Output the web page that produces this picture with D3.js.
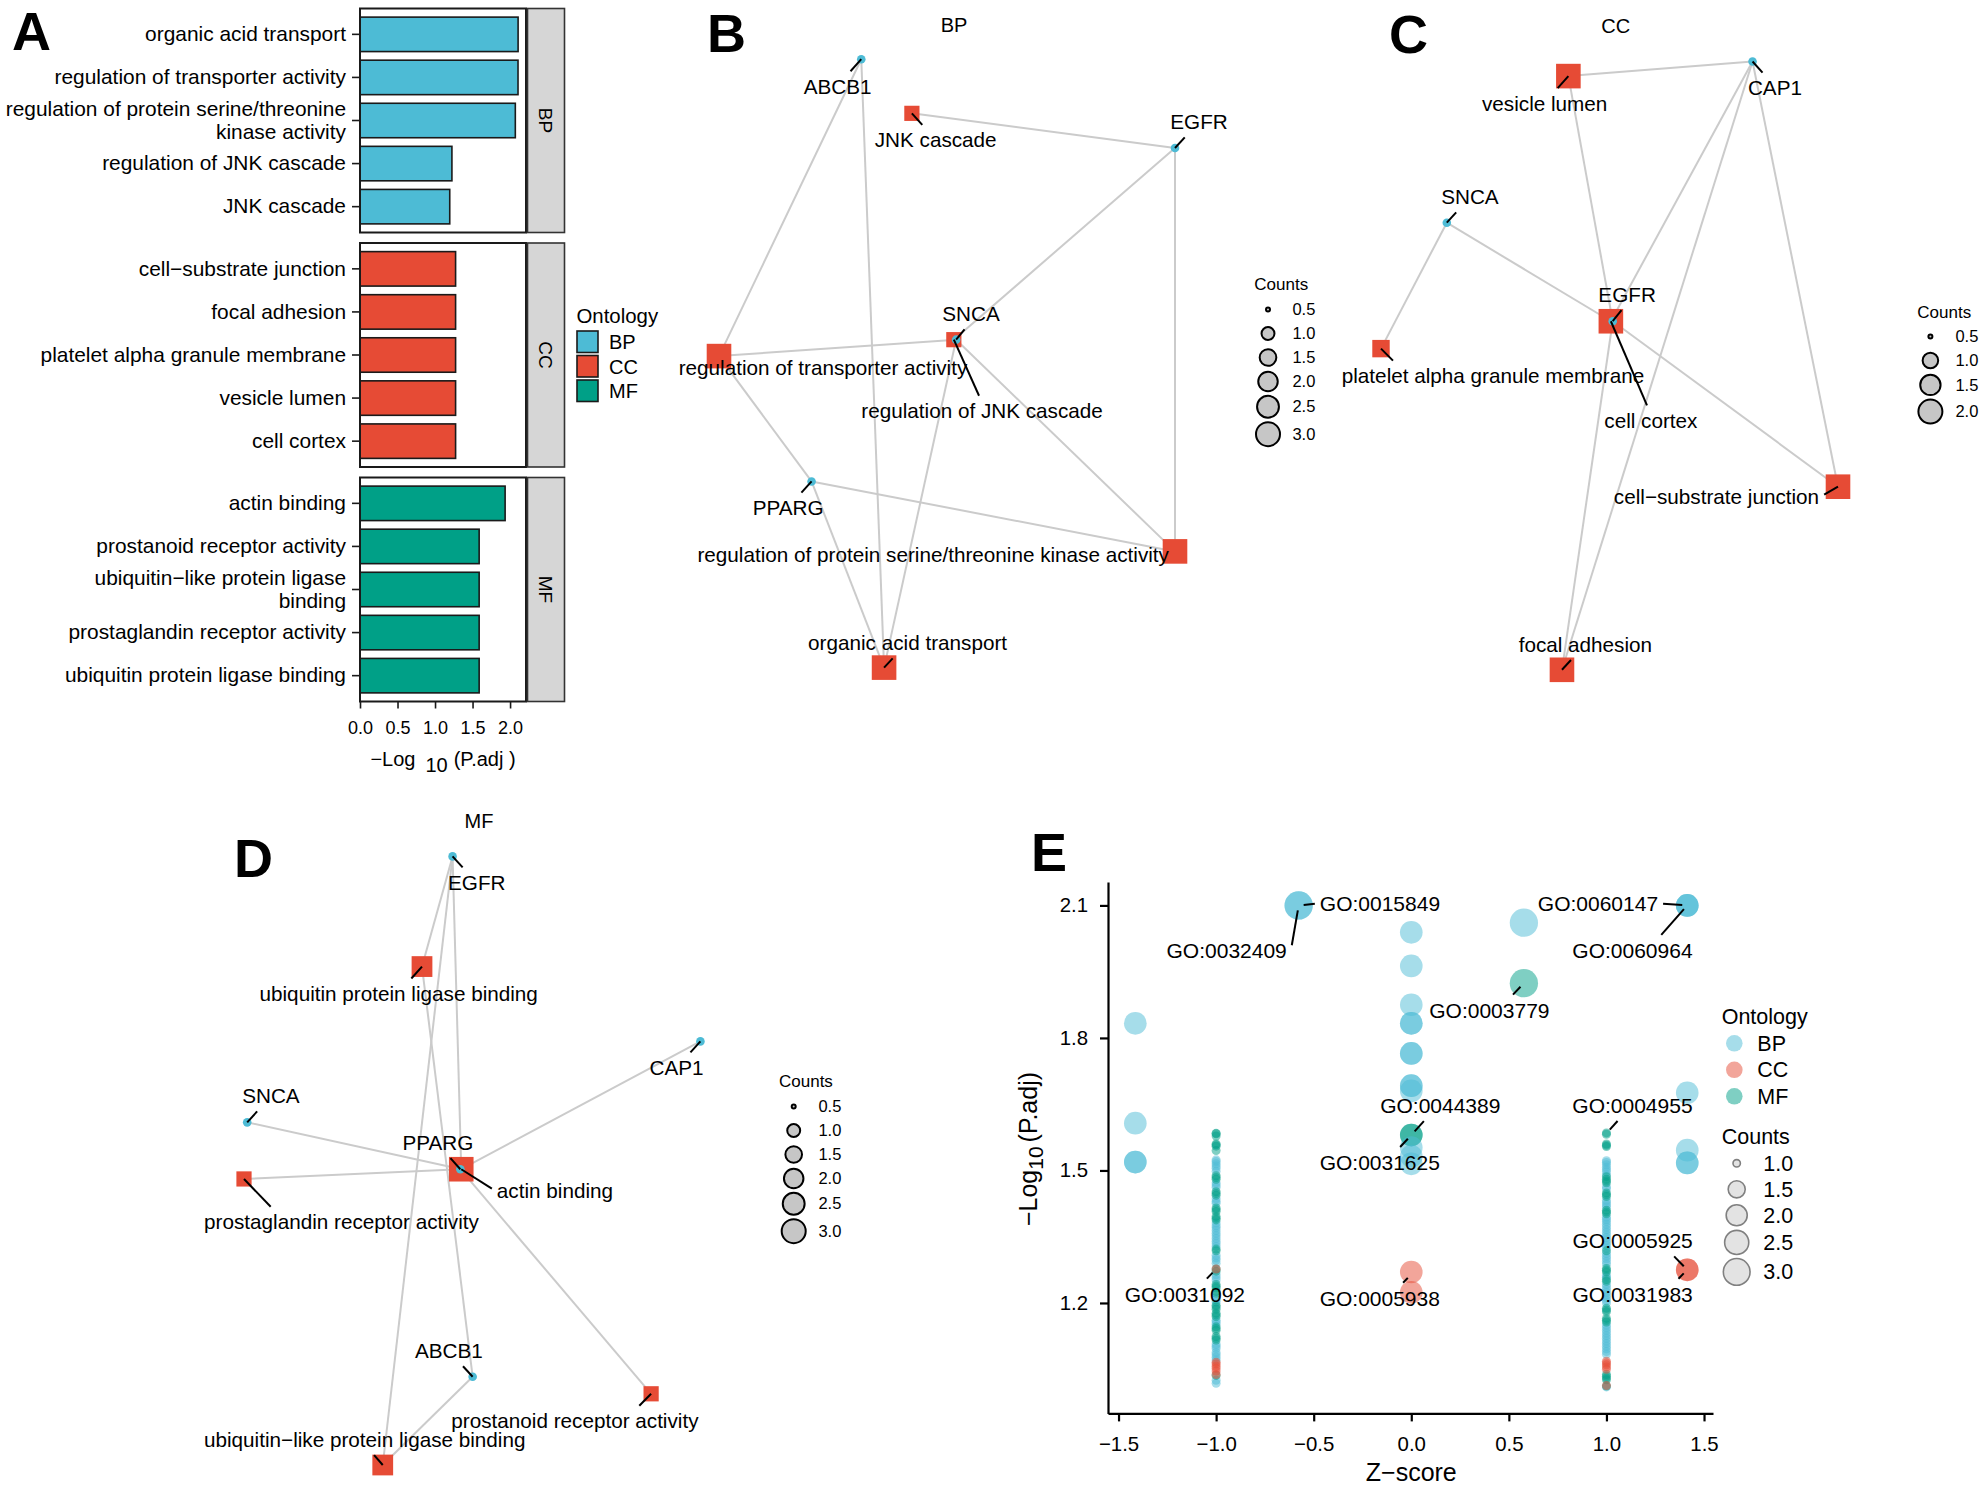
<!DOCTYPE html>
<meta charset="utf-8">

<!-- Load d3.js -->
<script src="https://d3js.org/d3.v7.min.js"></script>

<style>
    body { margin: 0; background: #fff; }
    svg { display: block; }
</style>

<div id="my_dataviz"></div>

<script>
    // ---------------- data ----------------
    var ontologies = ["BP", "CC", "MF"];
    var ontologyColors = ["#4DBBD5", "#E64B35", "#00A087"];

    // A: -log10(p.adj) of the top terms per ontology
    var bpTerms = ["organic acid transport", "regulation of transporter activity",
        "regulation of protein serine/threonine\nkinase activity", "regulation of JNK cascade", "JNK cascade"];
    var bpLogP = [2.107, 2.106, 2.07, 1.225, 1.196];
    var ccTerms = ["cell−substrate junction", "focal adhesion", "platelet alpha granule membrane",
        "vesicle lumen", "cell cortex"];
    var ccLogP = [1.274, 1.274, 1.274, 1.274, 1.274];
    var mfTerms = ["actin binding", "prostanoid receptor activity", "ubiquitin−like protein ligase\nbinding",
        "prostaglandin receptor activity", "ubiquitin protein ligase binding"];
    var mfLogP = [1.934, 1.588, 1.588, 1.588, 1.588];
    var barTicks = [0, 0.5, 1, 1.5, 2];

    // B: BP gene-concept network (layout coords 0..1)
    var bpNetNodes = ["ABCB1", "JNK cascade", "EGFR", "regulation of JNK cascade", "SNCA",
        "regulation of transporter activity", "PPARG",
        "regulation of protein serine/threonine kinase activity", "organic acid transport"];
    var bpNetIsGene = [1, 0, 1, 0, 1, 0, 1, 0, 0];
    var bpNetX = [0.312, 0.423, 1.0, 0.515, 0.52, 0.0, 0.203, 1.0, 0.362];
    var bpNetY = [0.0, 0.089, 0.146, 0.461, 0.461, 0.488, 0.694, 0.809, 1.0];
    var bpNetCount = [null, 1, null, 1, null, 3, null, 3, 3];
    var bpNetEdges = [
        ["ABCB1", "regulation of transporter activity"], ["ABCB1", "organic acid transport"],
        ["EGFR", "JNK cascade"], ["EGFR", "regulation of JNK cascade"],
        ["EGFR", "regulation of protein serine/threonine kinase activity"],
        ["SNCA", "regulation of transporter activity"], ["SNCA", "regulation of JNK cascade"],
        ["SNCA", "organic acid transport"], ["SNCA", "regulation of protein serine/threonine kinase activity"],
        ["PPARG", "regulation of transporter activity"],
        ["PPARG", "regulation of protein serine/threonine kinase activity"], ["PPARG", "organic acid transport"]
    ];
    var bpCountBreaks = [0.5, 1.0, 1.5, 2.0, 2.5, 3.0];

    // C: CC network
    var ccNetNodes = ["vesicle lumen", "CAP1", "SNCA", "cell cortex", "EGFR",
        "platelet alpha granule membrane", "cell−substrate junction", "focal adhesion"];
    var ccNetIsGene = [0, 1, 1, 0, 1, 0, 0, 0];
    var ccNetX = [0.410, 0.813, 0.144, 0.503, 0.507, 0.0, 1.0, 0.396];
    var ccNetY = [0.024, 0.0, 0.265, 0.427, 0.427, 0.472, 0.699, 1.0];
    var ccNetCount = [2, null, null, 2, null, 1, 2, 2];
    var ccNetEdges = [
        ["CAP1", "vesicle lumen"], ["EGFR", "vesicle lumen"], ["CAP1", "cell cortex"],
        ["CAP1", "focal adhesion"], ["CAP1", "cell−substrate junction"],
        ["SNCA", "platelet alpha granule membrane"], ["SNCA", "cell cortex"], ["EGFR", "cell cortex"],
        ["EGFR", "cell−substrate junction"], ["EGFR", "focal adhesion"]
    ];
    var ccCountBreaks = [0.5, 1.0, 1.5, 2.0];

    // D: MF network
    var mfNetNodes = ["EGFR", "ubiquitin protein ligase binding", "CAP1", "SNCA", "actin binding", "PPARG",
        "prostaglandin receptor activity", "ABCB1", "prostanoid receptor activity",
        "ubiquitin−like protein ligase binding"];
    var mfNetIsGene = [1, 0, 1, 1, 0, 1, 0, 1, 0, 0];
    var mfNetX = [0.457, 0.390, 1.0, 0.007, 0.476, 0.474, 0.0, 0.501, 0.892, 0.304];
    var mfNetY = [0.0, 0.181, 0.304, 0.437, 0.514, 0.514, 0.530, 0.855, 0.883, 1.0];
    var mfNetCount = [null, 2, null, null, 3, null, 1, null, 1, 2];
    var mfNetEdges = [
        ["EGFR", "ubiquitin protein ligase binding"], ["EGFR", "actin binding"],
        ["EGFR", "ubiquitin−like protein ligase binding"], ["ABCB1", "ubiquitin protein ligase binding"],
        ["ABCB1", "ubiquitin−like protein ligase binding"], ["CAP1", "actin binding"],
        ["SNCA", "actin binding"], ["PPARG", "actin binding"],
        ["PPARG", "prostaglandin receptor activity"], ["PPARG", "prostanoid receptor activity"]
    ];
    var mfCountBreaks = [0.5, 1.0, 1.5, 2.0, 2.5, 3.0];

    // E: z-score bubble plot, multi-gene terms
    var zBig = [-0.577, -0.577, 0.577, 1.414, 1.414, 1.414, 0, 0, 0.577, 0, 0, 0, -1.414, 0, 0, 0, 0, 0,
        1.414, -1.414, 0, 0, 0, 0, 0, 1.414, -1.414, -1.414, 1.414, 1.414, 0, 0, 1.414, 1.414];
    var logpBig = [2.1, 2.1, 2.061, 2.1, 2.1, 2.1, 2.039, 1.963, 1.924, 1.875, 1.833, 1.833, 1.833, 1.765, 1.765,
        1.692, 1.692, 1.680, 1.676, 1.607, 1.580, 1.580, 1.552, 1.532, 1.515, 1.546, 1.519, 1.519, 1.517, 1.517,
        1.270, 1.224, 1.275, 1.275];
    var countBig = [3, 3, 3, 2, 2, 2, 2, 2, 3, 2, 2, 2, 2, 2, 2, 2, 2, 2, 2, 2, 2, 2, 2, 2, 2, 2, 2, 2, 2, 2,
        2, 2, 2, 2];
    var ontBig = ["BP", "BP", "BP", "BP", "BP", "BP", "BP", "BP", "MF", "BP", "BP", "BP", "BP", "BP", "BP", "BP",
        "BP", "BP", "BP", "BP", "MF", "MF", "BP", "BP", "BP", "BP", "BP", "BP", "BP", "BP", "CC", "CC", "CC", "CC"];

    // single-gene terms at z = -1, by ontology
    var colNegBP = [1.524, 1.520, 1.515, 1.510, 1.505, 1.498, 1.472, 1.467, 1.462, 1.436, 1.430, 1.426, 1.381,
        1.375, 1.370, 1.364, 1.358, 1.352, 1.346, 1.340, 1.334, 1.328, 1.308, 1.302, 1.297, 1.290, 1.264, 1.258,
        1.252, 1.212, 1.207, 1.202, 1.161, 1.157, 1.152, 1.107, 1.102, 1.097, 1.088, 1.083, 1.077, 1.071, 1.025,
        1.018];
    var colNegMF = [1.584, 1.583, 1.578, 1.560, 1.558, 1.555, 1.545, 1.488, 1.484, 1.480, 1.452, 1.448, 1.444,
        1.415, 1.411, 1.407, 1.396, 1.392, 1.388, 1.322, 1.318, 1.277, 1.272, 1.242, 1.238, 1.234, 1.226, 1.222,
        1.195, 1.191, 1.186, 1.177, 1.173, 1.169, 1.146, 1.142, 1.138, 1.124, 1.120, 1.116, 1.036];
    var colNegCC = [1.277, 1.066, 1.062, 1.057, 1.052, 1.046, 1.038];

    // single-gene terms at z = 1, by ontology
    var colPosBP = [1.522, 1.518, 1.513, 1.507, 1.502, 1.497, 1.490, 1.463, 1.458, 1.432, 1.427, 1.422, 1.417,
        1.394, 1.389, 1.384, 1.378, 1.372, 1.366, 1.360, 1.354, 1.348, 1.342, 1.336, 1.330, 1.324, 1.312, 1.306,
        1.300, 1.294, 1.288, 1.262, 1.258, 1.242, 1.236, 1.230, 1.224, 1.218, 1.212, 1.206, 1.200, 1.150, 1.144,
        1.138, 1.132, 1.126, 1.120, 1.114, 1.108, 1.102, 1.096, 1.090, 1.084, 1.010];
    var colPosMF = [1.585, 1.582, 1.560, 1.557, 1.554, 1.486, 1.480, 1.476, 1.472, 1.449, 1.445, 1.441, 1.410,
        1.406, 1.402, 1.318, 1.278, 1.274, 1.270, 1.253, 1.249, 1.188, 1.184, 1.180, 1.165, 1.161, 1.157, 1.038,
        1.034, 1.030, 1.026, 1.012];
    var colPosCC = [1.068, 1.064, 1.060, 1.055, 1.050, 1.013];

    // labelled terms in E
    var eLabelIds = ["GO:0015849", "GO:0032409", "GO:0060147", "GO:0060964", "GO:0003779", "GO:0044389",
        "GO:0031625", "GO:0004955", "GO:0031092", "GO:0005938", "GO:0005925", "GO:0031983"];
    var eLabelZ = [-0.577, -0.577, 1.414, 1.414, 0.577, 0, 0, 1, -1, 0, 1.414, 1.414];
    var eLabelLogP = [2.1, 2.1, 2.1, 2.1, 1.924, 1.580, 1.580, 1.584, 1.277, 1.265, 1.275, 1.275];

    var eYTicks = [1.2, 1.5, 1.8, 2.1];
    var eXTicks = [-1.5, -1.0, -0.5, 0, 0.5, 1.0, 1.5];
    var eCountBreaks = [1.0, 1.5, 2.0, 2.5, 3.0];

    // ---------------- drawing ----------------
    var FONT = "'Liberation Sans', Arial, Helvetica, sans-serif";
    var fmt1 = d3.format(".1f");

    var svg = d3.select("#my_dataviz")
        .append("svg")
        .attr("width", 1984)
        .attr("height", 1487)
        .style("font-family", FONT);
    svg.append("rect").attr("width", 1984).attr("height", 1487).style("fill", "#fff");

    var color = d3.scaleOrdinal().domain(ontologies).range(ontologyColors);

    // panel letters
    var letters = ["A", "B", "C", "D", "E"];
    var letterPos = [[12, 49.5], [707, 51.5], [1389, 53], [234, 877], [1031, 871]];
    svg.selectAll("text.letter")
        .data(letters)
        .enter()
        .append("text")
        .attr("x", function(d, i) { return letterPos[i][0]; })
        .attr("y", function(d, i) { return letterPos[i][1]; })
        .style("font-size", "54px")
        .style("font-weight", "bold")
        .text(function(d) { return d; });

    // ===== A: faceted bar chart =====
    var facetTerms = [bpTerms, ccTerms, mfTerms];
    var facetVals = [bpLogP, ccLogP, mfLogP];
    var facetTop = [8.5, 243, 477.5],
        facetH = 224,
        panelL = 360,
        panelR = 526;

    var xBar = d3.scaleLinear()
        .domain([0, d3.max(bpLogP.concat(ccLogP, mfLogP)) * 1.05])
        .range([panelL, panelR]);

    ontologies.forEach(function(ont, i) {
        var terms = facetTerms[i],
            vals = facetVals[i],
            top = facetTop[i];
        var y = d3.scaleBand()
            .domain(terms)
            .range([top, top + facetH])
            .paddingInner(0.2)
            .paddingOuter(0.2);
        var g = svg.append("g");

        g.selectAll("rect.bar")
            .data(terms)
            .enter()
            .append("rect")
            .attr("x", xBar(0))
            .attr("y", function(d) { return y(d); })
            .attr("width", function(d, j) { return xBar(vals[j]) - xBar(0); })
            .attr("height", y.bandwidth())
            .style("fill", color(ont))
            .style("stroke", "#1a1a1a")
            .style("stroke-width", 1.6);

        // panel border
        g.append("rect")
            .attr("x", panelL).attr("y", top)
            .attr("width", panelR - panelL).attr("height", facetH)
            .style("fill", "none").style("stroke", "#1a1a1a").style("stroke-width", 2);

        // facet strip
        g.append("rect")
            .attr("x", panelR + 1.5).attr("y", top)
            .attr("width", 37).attr("height", facetH)
            .style("fill", "#d6d6d6").style("stroke", "#333").style("stroke-width", 1.6);
        g.append("text")
            .attr("transform", "translate(" + (panelR + 20) + "," + (top + facetH / 2) + ") rotate(90)")
            .attr("text-anchor", "middle")
            .attr("dy", "0.35em")
            .style("font-size", "19px")
            .text(ont);

        // y axis with (possibly two-line) term labels
        var ax = g.append("g")
            .attr("transform", "translate(" + panelL + ",0)")
            .call(d3.axisLeft(y).tickSize(8).tickPadding(6));
        ax.attr("font-family", null).attr("font-size", null);
        ax.select(".domain").remove();
        ax.selectAll(".tick line").style("stroke", "#1a1a1a").style("stroke-width", 1.6);
        ax.selectAll(".tick text")
            .style("font-size", "20.9px")
            .style("fill", "#000")
            .each(function(d) {
                var lines = d.split("\n");
                if (lines.length < 2) return;
                var t = d3.select(this).text(null).attr("dy", null);
                lines.forEach(function(l, k) {
                    t.append("tspan")
                        .attr("x", -14)
                        .attr("dy", k === 0 ? (0.32 - (lines.length - 1) * 0.545) + "em" : "1.09em")
                        .text(l);
                });
            });
    });

    // x axis of A
    var xa = svg.append("g")
        .attr("transform", "translate(0," + (facetTop[2] + facetH) + ")")
        .call(d3.axisBottom(xBar).tickValues(barTicks).tickFormat(fmt1).tickSize(7).tickPadding(13));
    xa.attr("font-family", null).attr("font-size", null);
    xa.select(".domain").remove();
    xa.selectAll(".tick line").style("stroke", "#1a1a1a").style("stroke-width", 1.6);
    xa.selectAll(".tick text").style("font-size", "18px").style("fill", "#000");

    var xTitle = svg.append("text")
        .attr("x", (panelL + panelR) / 2)
        .attr("y", 766)
        .attr("text-anchor", "middle")
        .style("font-size", "20px");
    xTitle.append("tspan").text("−Log");
    xTitle.append("tspan").attr("dx", 10).attr("dy", 6).text("10");
    xTitle.append("tspan").attr("dx", 6).attr("dy", -6).text("(P.adj  )");

    // legend of A
    var aLeg = svg.append("g");
    aLeg.append("text").attr("x", 576.5).attr("y", 316).attr("dy", "0.35em")
        .style("font-size", "20.4px").text("Ontology");
    aLeg.selectAll("rect.key")
        .data(ontologies)
        .enter()
        .append("rect")
        .attr("x", 577)
        .attr("y", function(d, i) { return 331 + i * 24.5; })
        .attr("width", 21)
        .attr("height", 21.5)
        .style("fill", function(d) { return color(d); })
        .style("stroke", "#1a1a1a")
        .style("stroke-width", 1.6);
    aLeg.selectAll("text.key")
        .data(ontologies)
        .enter()
        .append("text")
        .attr("x", 609)
        .attr("y", function(d, i) { return 342 + i * 24.5; })
        .attr("dy", "0.35em")
        .style("font-size", "20px")
        .text(function(d) { return d; });

    // ===== helpers for the networks / repel labels =====
    // nearest point of a label box to the data point, nudged towards the box centre
    function lineConnection(px, py, b) {
        var ox, oy, left = false, right = false, top = false, bottom = false;
        if (px >= b.x0 && px <= b.x1) ox = px;
        else if (px > b.x1) { ox = b.x1; right = true; }
        else { ox = b.x0; left = true; }
        if (py >= b.y0 && py <= b.y1) oy = py;
        else if (py > b.y1) { oy = b.y1; bottom = true; }
        else { oy = b.y0; top = true; }
        var mx = (b.x0 + b.x1) / 2,
            my = (b.y0 + b.y1) / 2;
        var d = Math.hypot(px - ox, py - oy);
        if ((top || bottom) && !(left || right)) {
            ox = ox + (mx - ox) * d / Math.hypot(px - mx, py - oy);
        } else if ((left || right) && !(top || bottom)) {
            oy = oy + (my - oy) * d / Math.hypot(px - ox, py - my);
        } else if ((left || right) && (top || bottom)) {
            var a1 = Math.hypot(px - mx, py - oy),
                a2 = Math.hypot(px - ox, py - my);
            if (a1 < a2) ox = ox + (mx - ox) * d / a1;
            else oy = oy + (my - oy) * d / a2;
        }
        return [ox, oy, left || right || top || bottom];
    }

    function repelLabels(segG, textG, items, fontSize, startPad) {
        var pad = 5;
        items.forEach(function(it) {
            var cx = it.x + it.dx,
                cy = it.y + it.dy;
            var t = textG.append("text")
                .attr("x", cx).attr("y", cy).attr("dy", "0.35em")
                .attr("text-anchor", "middle")
                .style("font-size", fontSize + "px")
                .text(it.label);
            var w = t.node().getComputedTextLength();
            var box = { x0: cx - w / 2 - pad, x1: cx + w / 2 + pad, y0: cy - fontSize / 2 - pad, y1: cy + fontSize / 2 + pad };
            var end = lineConnection(it.x, it.y, box);
            if (!end[2]) return;
            var len = Math.hypot(end[0] - it.x, end[1] - it.y);
            if (len <= startPad + 3) return;
            var s = startPad / len;
            segG.append("line")
                .attr("x1", it.x + (end[0] - it.x) * s).attr("y1", it.y + (end[1] - it.y) * s)
                .attr("x2", end[0]).attr("y2", end[1])
                .style("stroke", "#000").style("stroke-width", 2);
        });
    }

    function countSizer(lo, hi, dmin, dmax) {
        var s = d3.scaleLinear().domain([0, 1]).range([dmin, dmax]);
        return function(v) { return s(Math.sqrt((v - lo) / (hi - lo))); };
    }

    function countLegend(g, breaks, sizer, pos, keyMin, fill, stroke, strokeW, titleSize, labelSize) {
        g.append("text").attr("x", pos.titleX).attr("y", pos.titleY).attr("dy", "0.35em")
            .style("font-size", titleSize + "px").text("Counts");
        var yc = pos.titleY + pos.firstGap,
            prevH = null;
        breaks.forEach(function(b) {
            var d = sizer(b);
            var kh = Math.max(keyMin, d + 2.5);
            if (prevH !== null) yc += (prevH + kh) / 2;
            prevH = kh;
            g.append("circle")
                .attr("cx", pos.circleX).attr("cy", yc)
                .attr("r", Math.max(d / 2 - strokeW / 2, 0.5))
                .style("fill", fill).style("stroke", stroke).style("stroke-width", strokeW);
            g.append("text").attr("x", pos.labelX).attr("y", yc).attr("dy", "0.35em")
                .style("font-size", labelSize + "px").text(fmt1(b));
        });
    }

    function drawNetwork(names, isGene, lx, ly, counts, edges, place) {
        var sx = d3.scaleLinear().domain([0, 1]).range(place.xRange);
        var sy = d3.scaleLinear().domain([0, 1]).range(place.yRange);
        var sizer = countSizer(place.limits[0], place.limits[1], 6, 26);
        var side = function(n) { return 0.85 * sizer(n.count) + 2.5; };
        var nodes = names.map(function(n, i) {
            return {
                label: n, gene: isGene[i] === 1,
                x: sx(lx[i]), y: sy(ly[i]), count: counts[i],
                dx: place.nudges[i][0], dy: place.nudges[i][1]
            };
        });
        var byName = {};
        nodes.forEach(function(n) { byName[n.label] = n; });

        var g = svg.append("g");
        g.selectAll("line.edge")
            .data(edges)
            .enter()
            .append("line")
            .attr("x1", function(e) { return byName[e[0]].x; })
            .attr("y1", function(e) { return byName[e[0]].y; })
            .attr("x2", function(e) { return byName[e[1]].x; })
            .attr("y2", function(e) { return byName[e[1]].y; })
            .style("stroke", "#cbcbcb")
            .style("stroke-width", 2);

        g.selectAll("rect.term")
            .data(nodes.filter(function(n) { return !n.gene; }))
            .enter()
            .append("rect")
            .attr("x", function(n) { return n.x - side(n) / 2; })
            .attr("y", function(n) { return n.y - side(n) / 2; })
            .attr("width", side)
            .attr("height", side)
            .style("fill", color("CC"));

        g.selectAll("circle.gene")
            .data(nodes.filter(function(n) { return n.gene; }))
            .enter()
            .append("circle")
            .attr("cx", function(n) { return n.x; })
            .attr("cy", function(n) { return n.y; })
            .attr("r", 4.3)
            .style("fill", color("BP"));

        var segG = g.append("g"),
            textG = g.append("g");
        repelLabels(segG, textG, nodes, 20.7, 0);

        g.append("text")
            .attr("x", place.title[1]).attr("y", place.title[2]).attr("dy", "0.35em")
            .attr("text-anchor", "middle").style("font-size", "20px").text(place.title[0]);

        countLegend(g, place.breaks, sizer, place.legend, 24, "#c6c6c6", "#000", 2, 17, 16.5);
    }

    // ===== B, C, D =====
    drawNetwork(bpNetNodes, bpNetIsGene, bpNetX, bpNetY, bpNetCount, bpNetEdges, {
        xRange: [719, 1175], yRange: [59.2, 667.6], limits: [0.5, 3], breaks: bpCountBreaks,
        title: ["BP", 954, 24.7],
        nudges: [[-23.7, 27.4], [23.8, 26.9], [24, -26], [28.2, 71.4], [14.9, -25.6],
            [104, 11.2], [-23.4, 26.6], [-241.8, 3.1], [23.5, -24.6]],
        legend: { titleX: 1254.3, titleY: 284, firstGap: 25.5, circleX: 1268, labelX: 1292.4 }
    });

    drawNetwork(ccNetNodes, ccNetIsGene, ccNetX, ccNetY, ccNetCount, ccNetEdges, {
        xRange: [1381, 1838], yRange: [61.5, 669.8], limits: [0.5, 2], breaks: ccCountBreaks,
        title: ["CC", 1615.7, 26],
        nudges: [[-23.7, 27.3], [22.4, 26.5], [23.1, -25.6], [40, 99.4], [14.4, -26.5],
            [112, 27.4], [-121.5, 9.8], [23.4, -25.1]],
        legend: { titleX: 1917.3, titleY: 311.8, firstGap: 24.7, circleX: 1930.4, labelX: 1955.4 }
    });

    drawNetwork(mfNetNodes, mfNetIsGene, mfNetX, mfNetY, mfNetCount, mfNetEdges, {
        xRange: [244, 700.4], yRange: [856.4, 1465], limits: [0.5, 3], breaks: mfCountBreaks,
        title: ["MF", 479, 821],
        nudges: [[24.2, 26.4], [-23.3, 27.3], [-23.8, 26.3], [23.7, -26.3], [93.7, 22],
            [-22.4, -26.4], [97.5, 43.1], [-23.8, -25.9], [-76.2, 27.3], [-18, -25.2]],
        legend: { titleX: 779, titleY: 1081, firstGap: 25.5, circleX: 793.7, labelX: 818.4 }
    });

    // ===== E: bubble plot =====
    var xE = d3.scaleLinear().domain([-1.554, 1.546]).range([1108, 1713]);
    var yE = d3.scaleLinear().domain([0.950, 2.153]).range([1413.4, 882]);
    var eSizer = countSizer(1, 3, 9, 28.3);

    var ePoints = [];
    function addColumn(z, vals, ont) {
        vals.forEach(function(p) { ePoints.push({ z: z, p: p, c: 1, o: ont }); });
    }
    addColumn(-1, colNegBP, "BP");
    addColumn(1, colPosBP, "BP");
    addColumn(-1, colNegMF, "MF");
    addColumn(1, colPosMF, "MF");
    addColumn(-1, colNegCC, "CC");
    addColumn(1, colPosCC, "CC");
    zBig.forEach(function(z, i) { ePoints.push({ z: z, p: logpBig[i], c: countBig[i], o: ontBig[i] }); });

    var eg = svg.append("g");
    eg.selectAll("circle.pt")
        .data(ePoints)
        .enter()
        .append("circle")
        .attr("cx", function(d) { return xE(d.z); })
        .attr("cy", function(d) { return yE(d.p); })
        .attr("r", function(d) { return eSizer(d.c) / 2; })
        .style("fill", function(d) { return color(d.o); })
        .style("fill-opacity", 0.5);

    var exa = eg.append("g")
        .attr("transform", "translate(0," + yE.range()[0] + ")")
        .call(d3.axisBottom(xE).tickValues(eXTicks).tickFormat(fmt1).tickSize(8).tickSizeOuter(0).tickPadding(15));
    var eya = eg.append("g")
        .attr("transform", "translate(" + xE.range()[0] + ",0)")
        .call(d3.axisLeft(yE).tickValues(eYTicks).tickFormat(fmt1).tickSize(8).tickSizeOuter(0).tickPadding(12));
    [exa, eya].forEach(function(a) {
        a.attr("font-family", null).attr("font-size", null);
        a.select(".domain").style("stroke", "#000").style("stroke-width", 2.2);
        a.selectAll(".tick line").style("stroke", "#000").style("stroke-width", 2.2);
        a.selectAll(".tick text").style("font-size", "20.4px").style("fill", "#000");
    });

    eg.append("text")
        .attr("x", xE(0)).attr("y", 1472).attr("dy", "0.35em")
        .attr("text-anchor", "middle").style("font-size", "25px").text("Z−score");
    var eyTitle = eg.append("text")
        .attr("transform", "translate(1028,1149) rotate(-90)")
        .attr("y", 8.5)
        .attr("text-anchor", "middle")
        .style("font-size", "25px");
    eyTitle.append("tspan").text("−Log");
    eyTitle.append("tspan").attr("dy", 6).style("font-size", "21px").text("10");
    eyTitle.append("tspan").attr("dx", 4).attr("dy", -6).text("(P.adj)");

    // E labels
    var eNudges = [[81.3, -1.7], [-72, 45], [-89.3, -1.7], [-54.8, 45], [-34.5, 27], [29, -29.5],
        [-31.5, 27.4], [26, -27.8], [-31.2, 25.2], [-31.5, 24], [-54.6, -29], [-54.6, 24.4]];
    var eItems = eLabelIds.map(function(id, i) {
        return { label: id, x: xE(eLabelZ[i]), y: yE(eLabelLogP[i]), dx: eNudges[i][0], dy: eNudges[i][1] };
    });
    var eSeg = eg.append("g"),
        eText = eg.append("g");
    repelLabels(eSeg, eText, eItems, 21, 5);

    // E legends
    var eLeg = svg.append("g");
    eLeg.append("text").attr("x", 1721.7).attr("y", 1016.7).attr("dy", "0.35em")
        .style("font-size", "21.5px").text("Ontology");
    eLeg.selectAll("circle.key")
        .data(ontologies)
        .enter()
        .append("circle")
        .attr("cx", 1734.3)
        .attr("cy", function(d, i) { return 1043.3 + i * 26.5; })
        .attr("r", 8.3)
        .style("fill", function(d) { return color(d); })
        .style("fill-opacity", 0.5);
    eLeg.selectAll("text.key")
        .data(ontologies)
        .enter()
        .append("text")
        .attr("x", 1757.3)
        .attr("y", function(d, i) { return 1043.3 + i * 26.5; })
        .attr("dy", "0.35em")
        .style("font-size", "21.5px")
        .text(function(d) { return d; });
    countLegend(eLeg, eCountBreaks, eSizer,
        { titleX: 1721.7, titleY: 1136, firstGap: 27.3, circleX: 1736.7, labelX: 1763.3 },
        26, "#e3e3e3", "#808080", 1.6, 21.5, 21.5);
</script>
